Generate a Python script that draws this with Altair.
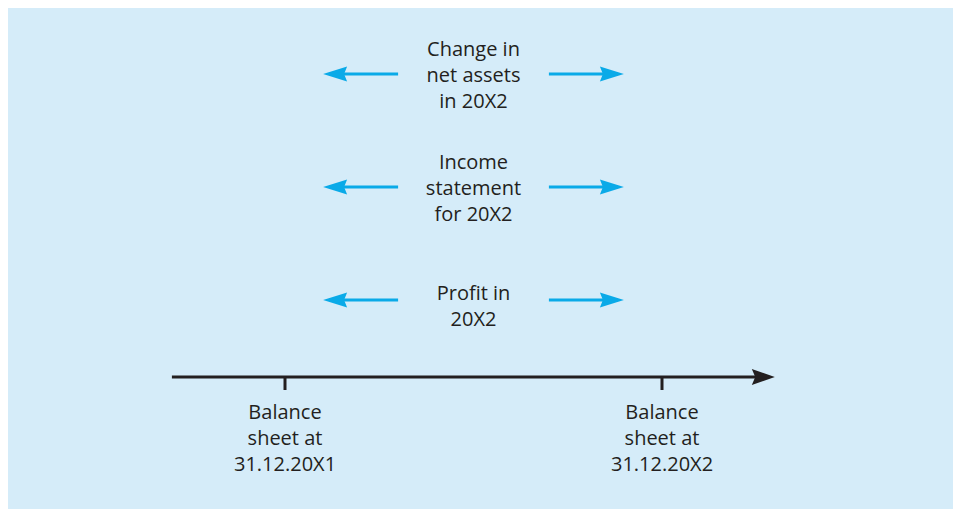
import altair as alt
import pandas as pd

# ---------------- data ----------------
# Flows shown above the time line (top to bottom)
flow_labels = [
    ["Change in", "net assets", "in 20X2"],
    ["Income", "statement", "for 20X2"],
    ["Profit in", "20X2"],
]
# height of each arrow row above the time line (px-like units)
flow_row_height = [303, 190, 77]
# vertical centre of each label block
flow_label_center = [301, 188, 70.5]

# Points on the time line (0 = end of 20X1, 1 = end of 20X2)
date_labels = [
    ["Balance", "sheet at", "31.12.20X1"],
    ["Balance", "sheet at", "31.12.20X2"],
]
date_x = [0.0, 1.0]
date_label_center = -62

# time line extent
timeline_start, timeline_end = -0.30, 1.284
# arrow shafts (left arrow points left, right arrow points right)
left_arrow = (0.117, 0.30)   # (tip end, tail end)
right_arrow = (0.70, 0.883)  # (tail end, tip end)

# ---------------- layout helpers ----------------
W, H = 945, 501
PX_PER_UNIT = 377
X0 = 285 - 8          # plot px of x = 0
Y0 = 377 - 8          # plot px of time line
x_scale = alt.Scale(domain=[-X0 / PX_PER_UNIT, (W - X0) / PX_PER_UNIT], nice=False, zero=False)
y_scale = alt.Scale(domain=[-(H - Y0), Y0], nice=False, zero=False)

CYAN = "#0aaae8"
DARK = "#231f20"
BG = "#d5ecf9"
LINE_H = 26

shafts = []
heads = []
for h in flow_row_height:
    shafts.append({"x": left_arrow[0], "x2": left_arrow[1], "y": h})
    shafts.append({"x": right_arrow[0], "x2": right_arrow[1], "y": h})
    heads.append({"x": left_arrow[0], "y": h, "dir": "left"})
    heads.append({"x": right_arrow[1], "y": h, "dir": "right"})

texts = []
for lines, c in zip(flow_labels, flow_label_center):
    n = len(lines)
    for i, t in enumerate(lines):
        texts.append({"x": 0.5, "y": c + ((n - 1) / 2 - i) * LINE_H, "t": t})
for lines, xx in zip(date_labels, date_x):
    n = len(lines)
    for i, t in enumerate(lines):
        texts.append({"x": xx, "y": date_label_center + ((n - 1) / 2 - i) * LINE_H, "t": t})

X = lambda f="x": alt.X(f"{f}:Q", scale=x_scale, axis=None)
Y = lambda f="y": alt.Y(f"{f}:Q", scale=y_scale, axis=None)

shaft_df = pd.DataFrame(shafts)
shaft_layer = alt.Chart(shaft_df).mark_rule(color=CYAN, strokeWidth=3).encode(
    x=X(), x2="x2:Q", y=Y()
)

heads_df = pd.DataFrame(heads)
RIGHT_PATH = "M0.5,0 L-1.5,-0.625 L-1.25,0 L-1.5,0.625 Z"
LEFT_PATH = "M-0.5,0 L1.5,-0.625 L1.25,0 L1.5,0.625 Z"
right_heads = alt.Chart(heads_df[heads_df["dir"] == "right"]).mark_point(
    shape=RIGHT_PATH, size=576, filled=True, color=CYAN, opacity=1, strokeWidth=0
).encode(x=X(), y=Y())
left_heads = alt.Chart(heads_df[heads_df["dir"] == "left"]).mark_point(
    shape=LEFT_PATH, size=576, filled=True, color=CYAN, opacity=1, strokeWidth=0
).encode(x=X(), y=Y())

timeline_df = pd.DataFrame([{"x": timeline_start, "x2": timeline_end, "y": 0}])
timeline = alt.Chart(timeline_df).mark_rule(color=DARK, strokeWidth=3).encode(
    x=X(), x2="x2:Q", y=Y()
)
timeline_head = alt.Chart(pd.DataFrame([{"x": timeline_end, "y": 0}])).mark_point(
    shape="M0.5,0 L-1.5,-0.7 L-1.2,0 L-1.5,0.7 Z", size=529, filled=True,
    color=DARK, opacity=1, strokeWidth=0
).encode(x=X(), y=Y())

ticks_df = pd.DataFrame([{"x": xx, "y": 1, "y2": -13} for xx in date_x])
ticks = alt.Chart(ticks_df).mark_rule(color=DARK, strokeWidth=3).encode(
    x=X(), y=Y(), y2="y2:Q"
)

text_df = pd.DataFrame(texts)
text_layer = alt.Chart(text_df).mark_text(
    font="Open Sans", fontSize=20, color=DARK, align="center", baseline="middle"
).encode(x=X(), y=Y(), text="t:N")

chart = alt.layer(
    shaft_layer, left_heads, right_heads, timeline, timeline_head, ticks, text_layer
).properties(
    width=W, height=H,
    autosize=alt.AutoSizeParams(type="fit", contains="padding"),
    padding=0,
    background=BG,
).configure_view(stroke=None)

chart.save("out.html", embed_options={"renderer": "svg", "actions": False})
